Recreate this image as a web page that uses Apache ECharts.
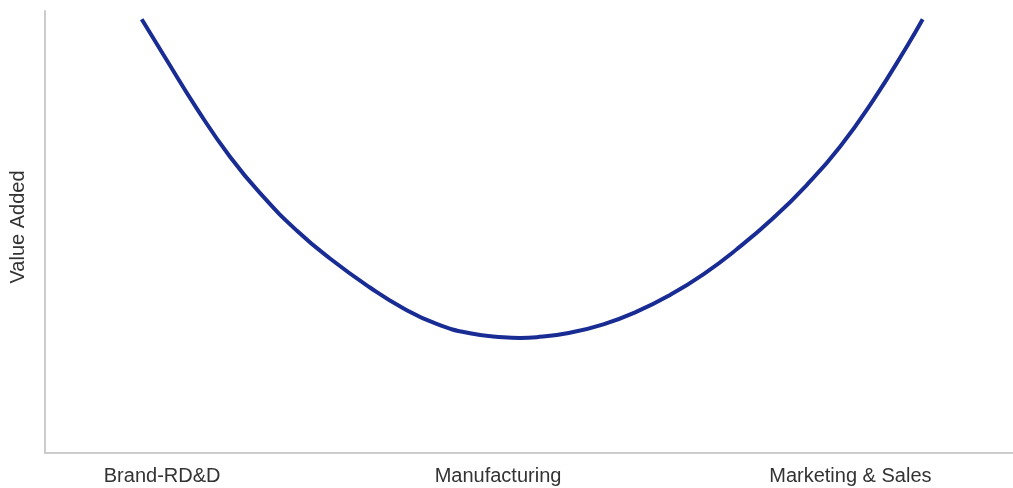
<!DOCTYPE html>
<html>
<head>
<meta charset="utf-8">
<script src="https://cdn.jsdelivr.net/npm/echarts@6/dist/echarts.min.js"></script>
<style>html,body{margin:0;padding:0;background:#fff}#c{width:1013px;height:488px}</style>
</head>
<body>
<div id="c"></div>
<script>
const categories = ['Brand-RD&D', 'Manufacturing', 'Marketing & Sales'];
const categoryPositions = [12.1, 46.8, 83.2];
const curveX = [9.99, 12.22, 15.67, 19.11, 22.55, 26.00, 29.44, 33.57, 37.01, 40.46, 43.90, 47.35, 49.07, 50.80, 54.24, 57.68, 61.13, 64.57, 68.01, 71.46, 75.24, 78.69, 82.13, 85.57, 89.02, 90.67];
const curveY = [98.12, 90.16, 77.99, 67.04, 57.99, 50.34, 44.00, 37.44, 32.74, 29.19, 27.08, 26.18, 26.02, 26.20, 27.22, 29.12, 31.97, 35.75, 40.43, 46.09, 53.17, 60.63, 69.30, 79.86, 91.92, 98.12];
const yAxisName = 'Value Added';

const chart = echarts.init(document.getElementById('c'), null, {renderer: 'canvas'});
chart.setOption({
  animation: false,
  grid: {left: 45, right: 0, top: 11, bottom: 35, containLabel: false},
  xAxis: {
    type: 'value', min: 0, max: 100,
    axisLine: {show: true, lineStyle: {color: '#cccccc', width: 2}},
    axisTick: {show: false},
    splitLine: {show: false},
    axisLabel: {
      customValues: categoryPositions,
      formatter: function (v) {
        const i = categoryPositions.indexOf(v);
        return i >= 0 ? categories[i] : '';
      },
      color: '#333', fontSize: 20, fontFamily: 'Liberation Sans', margin: 13,
      showMinLabel: true, showMaxLabel: true
    }
  },
  yAxis: {
    type: 'value', min: 0, max: 100,
    name: yAxisName, nameLocation: 'middle', nameGap: 17,
    nameTextStyle: {color: '#333', fontSize: 20, fontFamily: 'Liberation Sans', padding: [0, 0, 0, 10]},
    axisLine: {show: true, lineStyle: {color: '#cccccc', width: 2}},
    axisTick: {show: false},
    axisLabel: {show: false},
    splitLine: {show: false}
  },
  series: [{
    type: 'line',
    smooth: 0.5,
    showSymbol: false,
    data: curveX.map((x, i) => [x, curveY[i]]),
    lineStyle: {color: '#182c94', width: 4}
  }]
});
</script>
</body>
</html>
